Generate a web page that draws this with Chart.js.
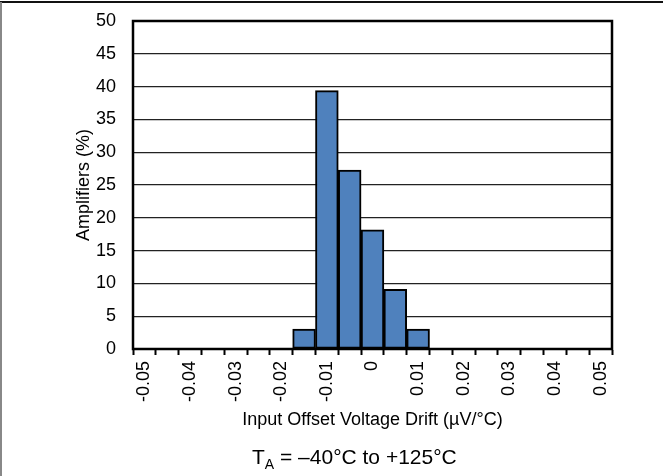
<!DOCTYPE html>
<html>
<head>
<meta charset="utf-8">
<script src="https://cdn.jsdelivr.net/npm/chart.js@4.4.1/dist/chart.umd.min.js"></script>
<style>
  html, body { margin: 0; padding: 0; background: #fff; }
  canvas { display: block; }
</style>
</head>
<body>
<canvas id="driftChart" width="663" height="476"></canvas>
<script>
// histogram bins (µV/°C), bin width 0.005
const driftBins = ["-0.05", "-0.045", "-0.04", "-0.035", "-0.03", "-0.025", "-0.02",
  "-0.015", "-0.01", "-0.005", "0", "0.005", "0.01", "0.015", "0.02", "0.025",
  "0.03", "0.035", "0.04", "0.045", "0.05"];
const amplifiersPct = [0, 0, 0, 0, 0, 0, 0, 3.03, 39.39, 27.27, 18.18, 9.09, 3.03,
  0, 0, 0, 0, 0, 0, 0, 0];
const yMin = 0;
const yMax = 50;
const yStep = 5;

const FONT = "'Liberation Sans', Arial, sans-serif";

// frame, plot box and the T_A caption
const decorations = {
  id: "decorations",
  beforeDraw(chart) {
    const ctx = chart.ctx;
    ctx.save();
    ctx.fillStyle = "#fff";
    ctx.fillRect(0, 0, chart.width, chart.height);
    ctx.restore();
  },
  afterDraw(chart) {
    const ctx = chart.ctx;
    const a = chart.chartArea;
    ctx.save();
    ctx.strokeStyle = "#000";
    ctx.lineWidth = 2.5;
    ctx.strokeRect(a.left, a.top, a.right - a.left, a.bottom - a.top);

    // outer frame
    ctx.lineWidth = 2;
    ctx.strokeStyle = "#111";
    ctx.beginPath();
    ctx.moveTo(0, 2);
    ctx.lineTo(chart.width, 2);
    ctx.stroke();
    ctx.strokeStyle = "#888";
    ctx.beginPath();
    ctx.moveTo(1, 2);
    ctx.lineTo(1, chart.height);
    ctx.stroke();

    // T_A = –40°C to +125°C
    ctx.fillStyle = "#000";
    ctx.textBaseline = "alphabetic";
    ctx.textAlign = "left";
    let x = 252;
    ctx.font = "21px " + FONT;
    ctx.fillText("T", x, 464);
    x += ctx.measureText("T").width;
    ctx.font = "14px " + FONT;
    ctx.fillText("A", x, 469);
    x += ctx.measureText("A").width;
    ctx.font = "21px " + FONT;
    ctx.fillText(" = \u201340\u00B0C to +125\u00B0C", x, 464);
    ctx.restore();
  }
};

const ctx = document.getElementById("driftChart");
const driftChart = new Chart(ctx, {
  type: "bar",
  data: {
    labels: driftBins,
    datasets: [
      {
        label: "Amplifiers",
        data: amplifiersPct,
        backgroundColor: "#4F81BD",
        borderColor: "#000",
        borderWidth: 2,
        borderSkipped: false,
        barPercentage: 1,
        categoryPercentage: 1,
      },
    ],
  },
  options: {
    responsive: false,
    animation: false,
    devicePixelRatio: 1,
    layout: { padding: { left: 0, top: 21, right: 51, bottom: 0 } },
    plugins: {
      legend: { display: false },
      tooltip: { enabled: false },
    },
    scales: {
      x: {
        offset: true,
        afterFit(scale) { scale.height = 127; },
        grid: {
          offset: true,
          drawOnChartArea: false,
          drawTicks: true,
          tickLength: 6,
          tickWidth: 2,
          tickColor: "#000",
        },
        border: { display: true, color: "#000", width: 2 },
        ticks: {
          autoSkip: false,
          minRotation: 90,
          maxRotation: 90,
          padding: 6,
          color: "#000",
          font: { family: FONT, size: 18 },
          callback: (v, i) => (i % 2 === 0 ? driftBins[i] : ""),
        },
        title: {
          display: true,
          text: "Input Offset Voltage Drift (\u00B5V/\u00B0C)",
          color: "#000",
          font: { family: FONT, size: 18 },
          padding: { top: 0, bottom: 45 },
        },
      },
      y: {
        min: yMin,
        max: yMax,
        afterFit(scale) {
          scale.width = 133;
          scale.paddingTop = 0;
          scale.paddingBottom = 0;
        },
        grid: {
          color: "#222",
          lineWidth: 1.2,
          drawTicks: false,
        },
        border: { display: true, color: "#000", width: 2 },
        ticks: {
          stepSize: yStep,
          padding: 17,
          color: "#000",
          font: { family: FONT, size: 18 },
        },
        title: {
          display: true,
          text: "Amplifiers (%)",
          color: "#000",
          font: { family: FONT, size: 18 },
          padding: { top: 73, bottom: 0 },
        },
      },
    },
  },
  plugins: [decorations],
});
</script>
</body>
</html>
